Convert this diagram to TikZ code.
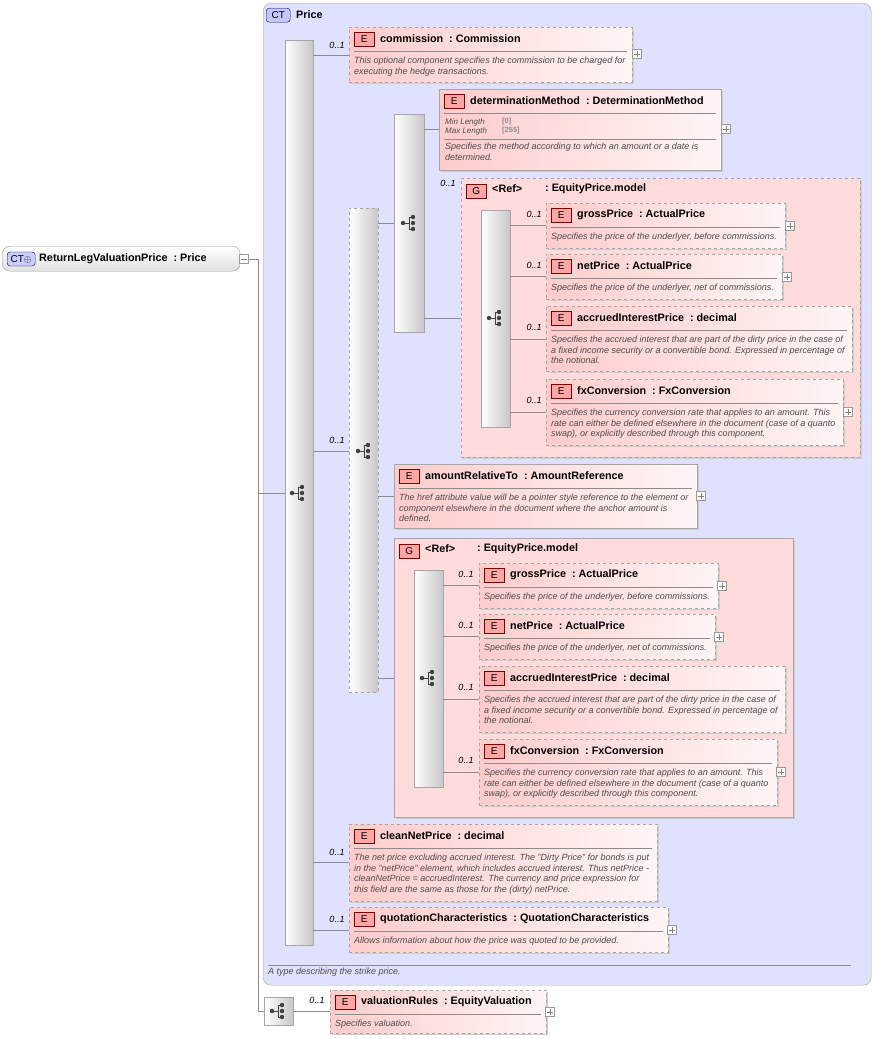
\documentclass[tikz,border=0pt]{standalone}
\usepackage{fontspec}
\setmainfont{Liberation Sans}
\begin{document}
\begin{tikzpicture}[x=1pt,y=-1pt,
 elem/.style={draw=black!35,left color=red!20,right color=red!4,inner sep=0},
 grp/.style={draw=black!35,fill=red!14,inner sep=0},
 badge/.style={draw=red!50!black,fill=red!35,font=\fontsize{10}{10}\selectfont,minimum width=20,minimum height=14,inner sep=0},
 title/.style={font=\fontsize{10.8}{12}\selectfont\bfseries,inner sep=0},
 desc/.style={font=\fontsize{9}{10.6}\selectfont\itshape,text=black!70,align=left,inner sep=0},
 sep/.style={draw=black!45,line width=0.5},
 conn/.style={draw=black!45,line width=0.6},
 card/.style={font=\fontsize{9}{9}\selectfont\itshape,inner sep=0},
 bar/.style={draw=black!35,left color=white,right color=black!22,inner sep=0},
 pbox/.style={draw=black!40,fill=white,minimum size=9,inner sep=0}]
\useasboundingbox (0,0) rectangle (875,1039);
\newcommand\pl[2]{\node[pbox] at (#1,#2) {};\draw[black!50,line width=0.4] (#1-3,#2)--(#1+3,#2) (#1,#2-3)--(#1,#2+3);}
\newcommand\seqic[2]{\fill[black!75] (#1-6,#2) circle (2.2);\draw[black!75,line width=0.9] (#1-6,#2)--(#1,#2) (#1,#2-6)--(#1,#2+6) (#1,#2-6)--(#1+4,#2-6) (#1,#2+6)--(#1+4,#2+6);\fill[black!75] (#1+4,#2-6) circle (2.2) (#1+4,#2) circle (2.2) (#1+4,#2+6) circle (2.2);}
\newcommand\elbox[8]{%
 \fill[black!20] (#2+2,#3+2) rectangle (#4+2,#5+2);
 \node[elem,#6,minimum width={#4-#2},minimum height={#5-#3},anchor=north west] (#1) at (#2,#3) {};
 \node[badge,anchor=north west] (#1b) at (#2+5,#3+5) {E};
 \node[title,anchor=west] (#1t) at (#2+31,#3+11.5) {#7};
 \draw[sep] (#2+5,#3+24) -- (#4-5,#3+24);
 \node[desc,anchor=north west] (#1d) at (#2+5,#3+30) {#8};}
% left root
\node[draw=black!40,rounded corners=8,top color=white,bottom color=black!12,minimum width=238,minimum height=25,anchor=north west,inner sep=0] (root) at (2,246) {};
\node[draw=blue!40!black,fill=blue!20,rounded corners=3,font=\fontsize{10}{10}\selectfont,minimum width=28,minimum height=14,inner sep=0,anchor=west] (rootb) at (7,259) {CT$\oplus$};
\node[title,anchor=west] (roott) at (39,258.5) {ReturnLegValuationPrice\ \ :\ Price};
\node[pbox] (rootm) at (244,259) {};\draw[black!50,line width=0.4] (241,259)--(247,259);
\coordinate (j) at (258,259);
\draw[conn] (rootm.east) -- (j) -- (258,1011);
% CT panel
\node[draw=black!35,fill=blue!12,rounded corners=8,minimum width=608,minimum height=982,anchor=north west,inner sep=0] (ct) at (263,3) {};
\node[draw=blue!40!black,fill=blue!22,rounded corners=3,font=\fontsize{10}{10}\selectfont,minimum width=24,minimum height=14,inner sep=0,anchor=north west] (ctb) at (266,8) {CT};
\node[title,anchor=west] (ctt) at (296,14.5) {Price};
\draw[sep] (268,965) -- (851,965);
\node[desc,anchor=west] (ctd) at (268,972.5) {A type describing the strike price.};
% main sequence
\node[bar,minimum width=28,minimum height=905,anchor=north west] (s1) at (285,40) {};
\seqic{298}{493}
\draw[conn] (j |- 0,493) -- (s1.west |- 0,493);
% commission
\elbox{com}{349}{27}{632}{82}{dashed}{commission\ \ :\ Commission}{This optional component specifies the commission to be charged for\\executing the hedge transactions.}
\pl{637}{54}
\draw[conn] (s1.east |- 0,55) -- (com.west |- 0,55); \node[card] at (337,45) {0..1};
% choice
\node[bar,dashed,minimum width=29,minimum height=484,anchor=north west] (ch) at (349,208) {};
\seqic{364}{451}
\draw[conn] (s1.east |- 0,451) -- (ch.west |- 0,451); \node[card] at (337,440) {0..1};
% seq2
\node[bar,minimum width=30,minimum height=218,anchor=north west] (s2) at (394,114) {};
\seqic{409}{223}
\draw[conn] (ch.east |- 0,223) -- (s2.west |- 0,223);
% determinationMethod
\fill[black!20] (441,91) rectangle (723,172);
\node[elem,minimum width=282,minimum height=81,anchor=north west] (dm) at (439,89) {};
\node[badge,anchor=north west] (dmb) at (444,94) {E};
\node[title,anchor=west] (dmt) at (470,100.5) {determinationMethod\ \ :\ DeterminationMethod};
\draw[sep] (444,113) -- (716,113);
\node[desc,anchor=west,font=\fontsize{8}{9}\selectfont\itshape] (dm1) at (445,122) {Min Length};
\node[desc,anchor=west,font=\fontsize{8}{9}\selectfont\itshape] (dm2) at (445,131) {Max Length};
\node[desc,anchor=west,text=black!45,font=\fontsize{7.5}{8}\selectfont\bfseries] (dm3) at (502,122) {[0]};
\node[desc,anchor=west,text=black!45,font=\fontsize{7.5}{8}\selectfont\bfseries] (dm4) at (502,131) {[255]};
\draw[sep] (444,139) -- (716,139);
\node[desc,anchor=north west] (dmd) at (445,143) {Specifies the method according to which an amount or a date is\\determined.};
\pl{726}{129}
\draw[conn] (s2.east |- 0,129) -- (dm.west |- 0,129);
% group 1
\fill[black!20] (463,180) rectangle (862,459);
\node[grp,dashed,minimum width=399,minimum height=279,anchor=north west] (g1) at (461,178) {};
\node[badge,anchor=north west] (g1b) at (466,184) {G};
\node[title,anchor=west] (g1t) at (492,189) {\textless Ref\textgreater};
\node[title,anchor=west] (g1u) at (545,189) {:\ EquityPrice.model};
\node[card] at (448,183) {0..1};
\draw[conn] (s2.east |- 0,318) -- (g1.west |- 0,318);
\node[bar,minimum width=29,minimum height=217,anchor=north west] (g1s) at (481,210) {};
\seqic{495}{318}
\elbox{ga}{546}{203}{785}{248}{dashed}{grossPrice\ \ :\ ActualPrice}{Specifies the price of the underlyer, before commissions.}
\elbox{gb}{546}{254}{782}{299}{dashed}{netPrice\ \ :\ ActualPrice}{Specifies the price of the underlyer, net of commissions.}
\elbox{gc}{546}{306}{852}{371}{dashed}{accruedInterestPrice\ \ :\ decimal}{Specifies the accrued interest that are part of the dirty price in the case of\\a fixed income security or a convertible bond. Expressed in percentage of\\the notional.}
\elbox{gd}{546}{379}{843}{445}{dashed}{fxConversion\ \ :\ FxConversion}{Specifies the currency conversion rate that applies to an amount. This\\rate can either be defined elsewhere in the document (case of a quanto\\swap), or explicitly described through this component.}
\pl{790}{226}\pl{787}{277}\pl{848}{412}
\draw[conn] (g1s.east |- 0,225) -- (ga.west |- 0,225); \node[card] at (534,214) {0..1};
\draw[conn] (g1s.east |- 0,276) -- (gb.west |- 0,276); \node[card] at (534,265) {0..1};
\draw[conn] (g1s.east |- 0,339) -- (gc.west |- 0,339); \node[card] at (534,327) {0..1};
\draw[conn] (g1s.east |- 0,412) -- (gd.west |- 0,412); \node[card] at (534,400) {0..1};
% amountRelativeTo
\elbox{ar}{394}{464}{697}{528}{solid}{amountRelativeTo\ \ :\ AmountReference}{The href attribute value will be a pointer style reference to the element or\\component elsewhere in the document where the anchor amount is\\defined.}
\pl{701}{496}
\draw[conn] (ch.east |- 0,496) -- (ar.west |- 0,496);
% group 2
\fill[black!20] (396,540) rectangle (795,819);
\node[grp,minimum width=399,minimum height=279,anchor=north west] (g2) at (394,538) {};
\node[badge,anchor=north west] (g2b) at (399,544) {G};
\node[title,anchor=west] (g2t) at (425,549) {\textless Ref\textgreater};
\node[title,anchor=west] (g2u) at (477,549) {:\ EquityPrice.model};
\draw[conn] (ch.east |- 0,678) -- (g2.west |- 0,678);
\node[bar,minimum width=29,minimum height=217,anchor=north west] (g2s) at (414,570) {};
\seqic{428}{678}
\elbox{ha}{479}{563}{718}{608}{dashed}{grossPrice\ \ :\ ActualPrice}{Specifies the price of the underlyer, before commissions.}
\elbox{hb}{479}{614}{715}{659}{dashed}{netPrice\ \ :\ ActualPrice}{Specifies the price of the underlyer, net of commissions.}
\elbox{hc}{479}{666}{785}{732}{dashed}{accruedInterestPrice\ \ :\ decimal}{Specifies the accrued interest that are part of the dirty price in the case of\\a fixed income security or a convertible bond. Expressed in percentage of\\the notional.}
\elbox{hd}{479}{739}{777}{805}{dashed}{fxConversion\ \ :\ FxConversion}{Specifies the currency conversion rate that applies to an amount. This\\rate can either be defined elsewhere in the document (case of a quanto\\swap), or explicitly described through this component.}
\pl{722}{586}\pl{719}{637}\pl{781}{772}
\draw[conn] (g2s.east |- 0,585) -- (ha.west |- 0,585); \node[card] at (466,574) {0..1};
\draw[conn] (g2s.east |- 0,636) -- (hb.west |- 0,636); \node[card] at (466,625) {0..1};
\draw[conn] (g2s.east |- 0,699) -- (hc.west |- 0,699); \node[card] at (466,687) {0..1};
\draw[conn] (g2s.east |- 0,772) -- (hd.west |- 0,772); \node[card] at (466,760) {0..1};
% cleanNetPrice
\elbox{cn}{349}{824}{657}{901}{dashed}{cleanNetPrice\ \ :\ decimal}{The net price excluding accrued interest. The "Dirty Price" for bonds is put\\in the "netPrice" element, which includes accrued interest. Thus netPrice -\\cleanNetPrice = accruedInterest. The currency and price expression for\\this field are the same as those for the (dirty) netPrice.}
\draw[conn] (s1.east |- 0,862) -- (cn.west |- 0,862); \node[card] at (337,852) {0..1};
% quotationCharacteristics
\elbox{qc}{349}{907}{668}{952}{dashed}{quotationCharacteristics\ \ :\ QuotationCharacteristics}{Allows information about how the price was quoted to be provided.}
\pl{672}{930}
\draw[conn] (s1.east |- 0,930) -- (qc.west |- 0,930); \node[card] at (337,919) {0..1};
% valuationRules
\node[bar,minimum width=29,minimum height=28,anchor=north west] (s3) at (264,997) {};
\seqic{278}{1011}
\draw[conn] (j |- 0,1011) -- (s3.west |- 0,1011);
\elbox{vr}{330}{990}{546}{1033}{dashed}{valuationRules\ \ :\ EquityValuation}{Specifies valuation.}
\pl{550}{1012}
\draw[conn] (s3.east |- 0,1011) -- (vr.west |- 0,1011); \node[card] at (317,1000) {0..1};
\end{tikzpicture}
\end{document}
